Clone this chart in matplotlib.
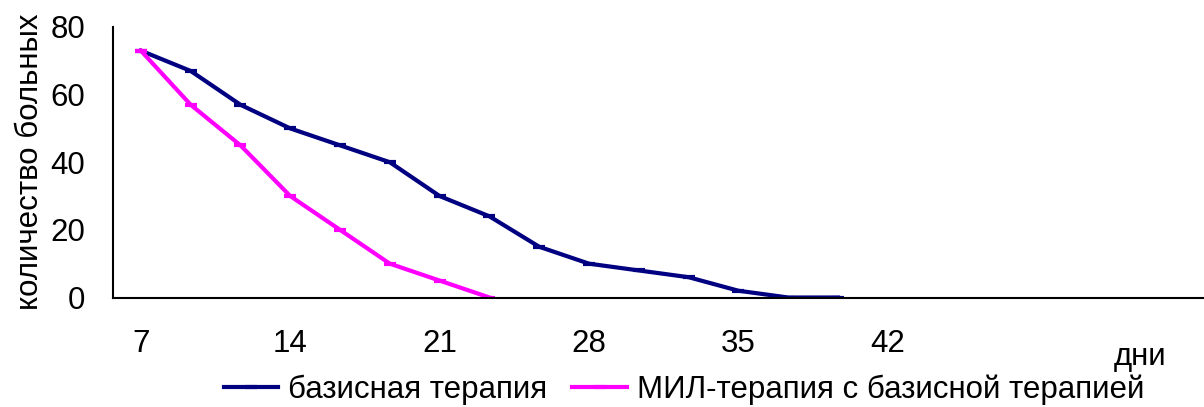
import numpy as np
import matplotlib
matplotlib.use('Agg')
import matplotlib.pyplot as plt

plt.rcParams['font.family'] = ['Liberation Sans', 'DejaVu Sans']

# количество больных по дням наблюдения
basis = [73, 67, 57, 50, 45, 40, 30, 24, 15, 10, 8, 6, 2, 0, 0]
mil = [73, 57, 45, 30, 20, 10, 5, 0]
day_labels = ['7', '14', '21', '28', '35', '42']
label_pos = [0, 3, 6, 9, 12, 15]
series_names = ['базисная терапия', 'МИЛ-терапия с базисной терапией']

fs = 22.5

fig = plt.figure(figsize=(12.04, 4.07), dpi=100)
ax = fig.add_axes([113 / 1204, 1 - 297.5 / 407, 1 - 113 / 1204, (297.5 - 27) / 407])

ax.plot(np.arange(len(basis)), basis, color='#000080', lw=3,
        marker='_', ms=9, mew=3, label=series_names[0])
ax.plot(np.arange(len(mil)), mil, color='#FF00FF', lw=3,
        marker='_', ms=9, mew=3, label=series_names[1])

ax.set_xlim(-0.56, 21.35)
ax.set_ylim(0, 80)
ax.set_yticks([0, 20, 40, 60, 80])
ax.set_xticks(label_pos)
ax.set_xticklabels(day_labels)
ax.tick_params(axis='both', length=0, labelsize=fs)
ax.tick_params(axis='x', pad=23)
ax.tick_params(axis='y', pad=20)

for s in ['top', 'right']:
    ax.spines[s].set_visible(False)
for s in ['left', 'bottom']:
    ax.spines[s].set_linewidth(1.5)

ax.set_ylabel('количество больных', fontsize=fs, labelpad=4)
fig.text(1140 / 1204, 1 - 357 / 407, 'дни', fontsize=fs, ha='center', va='center')

fig.legend(loc='center', bbox_to_anchor=(684 / 1204, 1 - 390 / 407), ncol=2,
           frameon=False, fontsize=fs, handlelength=1.75, handletextpad=0.32,
           columnspacing=0.8, borderaxespad=0)

fig.savefig('out.png', dpi=100)
